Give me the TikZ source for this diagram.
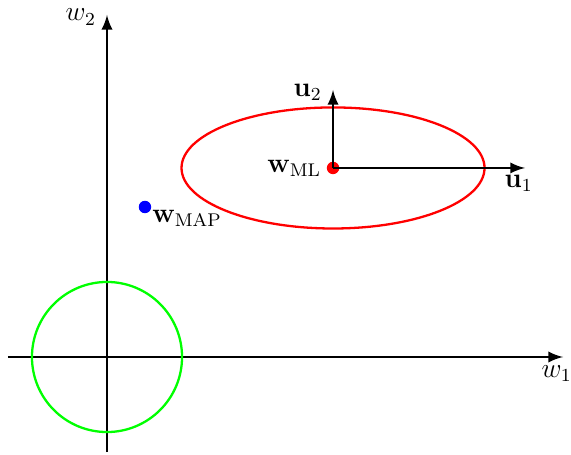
\documentclass[tikz,border=0pt]{standalone}
\usepackage{amsmath}
\usepackage{amssymb}
\usepackage{xcolor}
\usetikzlibrary{arrows,positioning}
\definecolor{mlred}{RGB}{255,0,0}
\definecolor{mapblue}{RGB}{0,0,255}
\definecolor{priorgreen}{RGB}{0,255,0}

\begin{document}
\begin{tikzpicture}[
    axis/.style={-latex, line width=1.2pt},
    eigvec/.style={-latex, line width=1.2pt},
    contour/.style={line width=1pt},
    pointdot/.style={circle, inner sep=0pt, minimum size=0.19cm},
    lbl/.style={inner sep=1pt, font=\large}
]
\useasboundingbox (-1.637,-1.484) rectangle (7.099,5.462);

% Axes
\coordinate (O) at (0,0);
\coordinate (xstart) at (-1.515,0);
\coordinate (xend) at (6.977,0);
\coordinate (ystart) at (0,-1.454);
\coordinate (yend) at (0,5.233);
\draw[axis] (xstart) -- (xend);
\draw[axis] (ystart) -- (yend);
\node[lbl] (w1) at (6.88,-0.25) {$w_1$};
\node[lbl] (w2) at (-0.4,5.2) {$w_2$};

% Prior contour
\draw[contour, priorgreen] (O) circle (1.148);

% Likelihood contour
\node[pointdot, fill=mlred] (ml) at (3.458,2.892) {};
\draw[contour, mlred] (ml.center) ellipse (2.318 and 0.926);

% Eigenvectors
\coordinate (u1end) at (6.395,2.892);
\coordinate (u2end) at (3.458,4.085);
\draw[eigvec] (ml.center) -- (u1end);
\draw[eigvec] (ml.center) -- (u2end);
\node[lbl] (u1) at (6.3,2.66) {$\mathbf{u}_1$};
\node[lbl] (u2) at (3.07,4.05) {$\mathbf{u}_2$};
\node[lbl, left=0.04cm of ml] (mllbl) {$\mathbf{w}_{\mathrm{ML}}$};

% MAP solution
\node[pointdot, fill=mapblue] (map) at (0.581,2.295) {};
\node[lbl, below right=-0.07cm and 0cm of map] (maplbl) {$\mathbf{w}_{\mathrm{MAP}}$};

\end{tikzpicture}
\end{document}
